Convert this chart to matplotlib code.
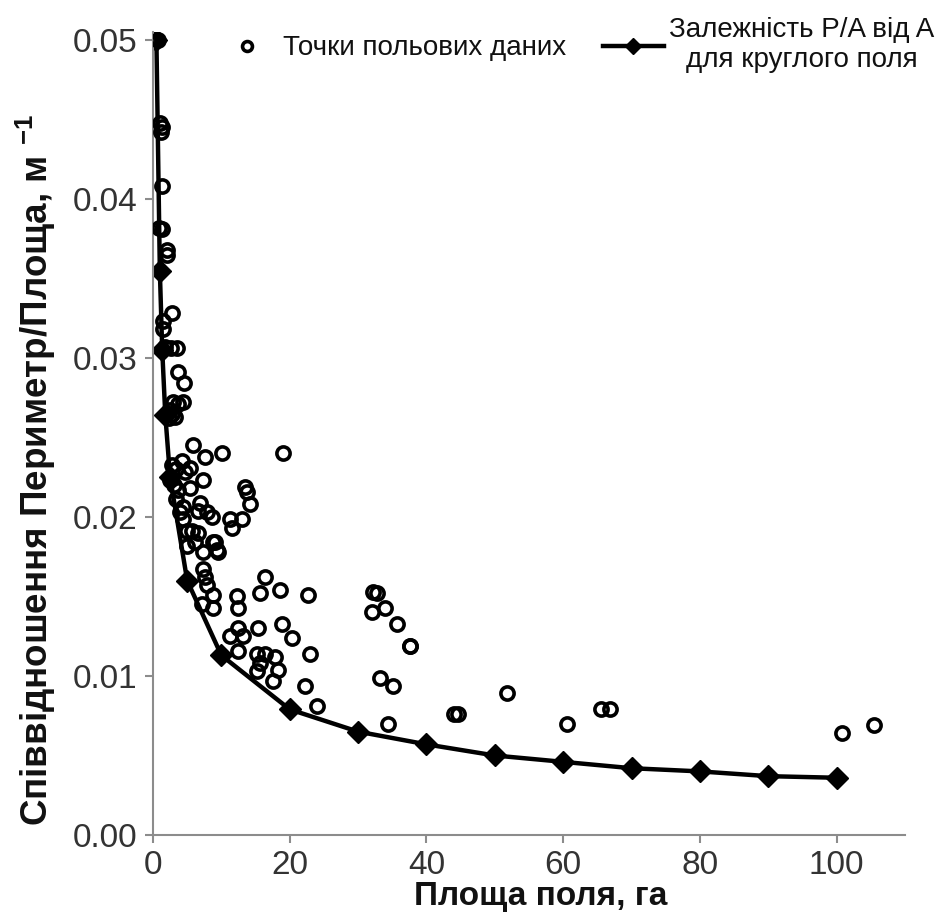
import matplotlib
matplotlib.use("Agg")
import matplotlib.pyplot as plt
from matplotlib import font_manager

# ---- data ----
field_area = [0.73, 1.02, 1.31, 1.17, 1.31, 0.88, 1.31, 2.04, 2.04, 2.77, 1.46, 1.46,
              1.75, 2.6, 3.50, 3.65, 4.53, 4.38, 2.92, 3.65, 2.77, 3.21, 2.34, 2.48,
              5.84, 7.59, 10.07, 18.98, 4.23, 5.40, 4.67, 3.36, 7.30, 5.40, 13.43, 13.72,
              14.16, 6.86, 6.57, 7.88, 8.61, 4.38, 4.38, 3.65, 3.36, 3.94, 11.24, 12.99,
              11.53, 4.96, 5.69, 6.57, 4.96, 6.13, 8.76, 9.34, 7.30, 7.30, 7.59, 7.88,
              8.76, 7.15, 8.76, 12.26, 12.41, 16.35, 15.62, 18.54, 22.63, 12.41, 11.24,
              13.14, 15.33, 18.83, 20.29, 12.41, 15.18, 16.35, 17.81, 15.62, 18.25, 15.18,
              17.52, 22.92, 22.19, 23.94, 32.12, 32.70, 33.87, 31.97, 35.62, 37.52, 37.6,
              33.14, 35.04, 34.31, 44.09, 44.67, 51.82, 60.58, 65.55, 66.86, 100.73, 105.40,
              2.77, 2.48, 3.07, 9.05, 9.49]
field_pa = [0.0500, 0.0448, 0.0445, 0.0442, 0.0408, 0.0382, 0.0381, 0.0368, 0.0365, 0.0328,
            0.0323, 0.0318, 0.0307, 0.0306, 0.0306, 0.0291, 0.0284, 0.0272, 0.0272, 0.0271,
            0.0265, 0.0263, 0.0262, 0.0267, 0.0245, 0.0238, 0.0240, 0.0240, 0.0235, 0.0231,
            0.0228, 0.0230, 0.0223, 0.0218, 0.0219, 0.0216, 0.0208, 0.0209, 0.0204, 0.0203,
            0.0200, 0.0206, 0.0199, 0.0217, 0.0211, 0.0203, 0.0199, 0.0199, 0.0193, 0.0191,
            0.0191, 0.0190, 0.0182, 0.0184, 0.0184, 0.0179, 0.0178, 0.0167, 0.0162, 0.0157,
            0.0151, 0.0145, 0.0143, 0.0150, 0.0143, 0.0162, 0.0152, 0.0154, 0.0151, 0.0130,
            0.0125, 0.0125, 0.0130, 0.0133, 0.0124, 0.0116, 0.0114, 0.0114, 0.0112, 0.0108,
            0.0104, 0.0103, 0.0097, 0.0114, 0.0094, 0.0081, 0.0153, 0.0152, 0.0143, 0.0140,
            0.0133, 0.0119, 0.0119, 0.0099, 0.0094, 0.0070, 0.0076, 0.0076, 0.0089, 0.0070,
            0.0079, 0.0079, 0.0064, 0.0069, 0.0233, 0.0223, 0.0220, 0.0184, 0.0178]

circle_area = [0.5, 1, 1.35, 1.8, 2.5, 5, 10, 20, 30, 40, 50, 60, 70, 80, 90, 100]
circle_pa = [0.0500, 0.0355, 0.0305, 0.0264, 0.0225, 0.0160, 0.0113, 0.0079, 0.0065,
             0.0057, 0.0050, 0.0046, 0.0042, 0.0040, 0.0037, 0.0036]

x_ticks = [0, 20, 40, 60, 80, 100]
y_ticks = [0.00, 0.01, 0.02, 0.03, 0.04, 0.05]
y_tick_labels = ["0.00", "0.01", "0.02", "0.03", "0.04", "0.05"]

label_points = "Точки польових даних"
label_curve = "Залежність P/A від A\nдля круглого поля"
x_label = "Площа поля, га"
y_label = "Співвідношення Периметр/Площа, м $^{\\mathbf{-1}}$"

# ---- fonts ----
names = {f.name for f in font_manager.fontManager.ttflist}
fam = ["Liberation Sans Narrow"] if "Liberation Sans Narrow" in names else []
fam += ["Liberation Sans", "DejaVu Sans"]
plt.rcParams["font.family"] = fam
plt.rcParams["mathtext.fontset"] = "custom"
plt.rcParams["mathtext.rm"] = fam[0]
plt.rcParams["mathtext.bf"] = fam[0] + ":bold"

fig = plt.figure(figsize=(9.39, 9.13), dpi=100)
ax = fig.add_axes([153 / 939, 1 - 835 / 913, 752 / 939, (835 - 32) / 913])

ax.plot(circle_area, circle_pa, color="black", lw=3.2, marker="D", ms=11,
        mfc="black", mec="black", label=label_curve, zorder=2)
ax.plot(field_area, field_pa, ls="none", marker="o", ms=9.5, mfc="none", mec="black",
        mew=2.6, label=label_points, zorder=3)

ax.set_xlim(0, 110)
ax.set_ylim(0, 0.0505)
ax.set_xticks(x_ticks)
ax.set_yticks(y_ticks)
ax.set_yticklabels(y_tick_labels)
for s in ["top", "right"]:
    ax.spines[s].set_visible(False)
for s in ["left", "bottom"]:
    ax.spines[s].set_color("#8c8c8c")
    ax.spines[s].set_linewidth(1.5)
ax.tick_params(axis="both", direction="out", length=6, width=1.5, color="#8c8c8c",
               labelsize=24, labelcolor="#333333", pad=5)

ax.set_xlabel(x_label, fontsize=24, fontweight="bold", color="#111111")
ax.xaxis.label.set_va("center")
ax.xaxis.set_label_coords(0.515, -0.0760)
ax.set_ylabel(y_label, fontsize=26.5, fontweight="bold", color="#111111")
ax.yaxis.set_label_coords(-0.126, 0.455)

h, l = ax.get_legend_handles_labels()
leg = fig.legend([h[1], h[0]], [l[1], l[0]], loc="upper right", ncol=2,
                 bbox_to_anchor=(1.004, 0.99), borderaxespad=0.1, borderpad=0.2,
                 frameon=False, fontsize=20,
                 handlelength=2.2, handletextpad=0.2, columnspacing=1.3, markerscale=0.75)
for t in leg.get_texts():
    t.set_multialignment("center")
    t.set_color("#111111")

fig.savefig("out.png", dpi=100, facecolor="white")
